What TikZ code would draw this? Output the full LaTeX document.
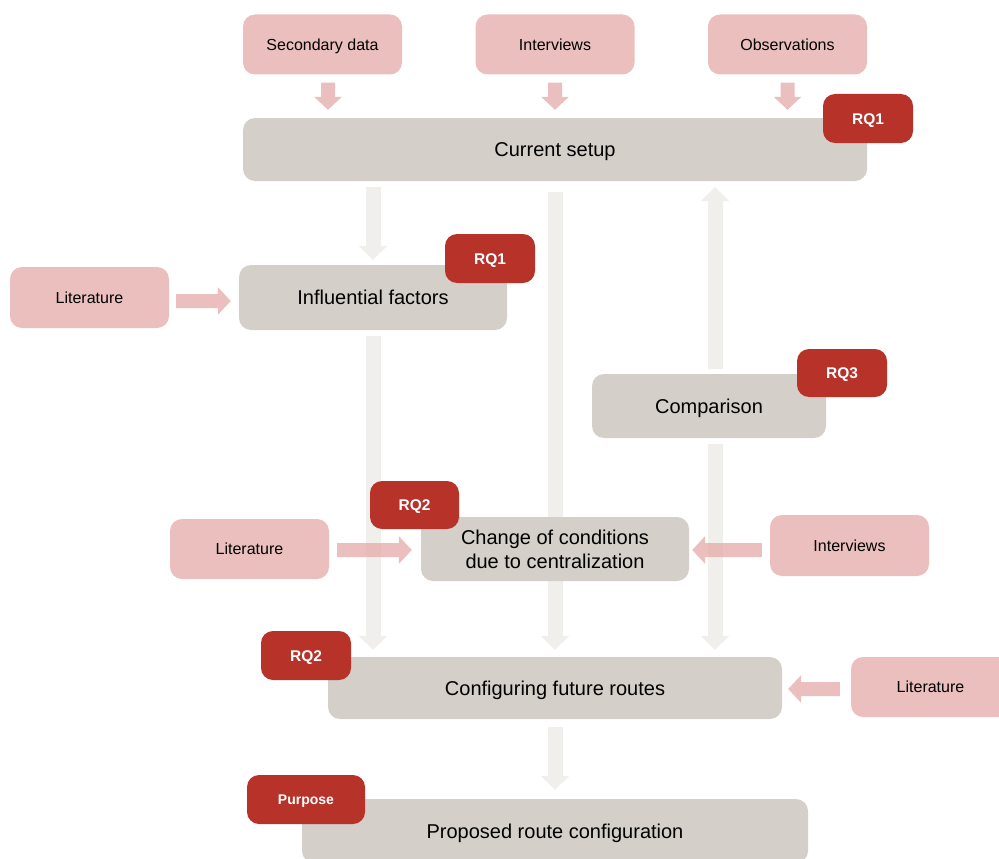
\documentclass[tikz,border=0pt]{standalone}
\usepackage{fontspec}
\setmainfont{Liberation Sans}
\usetikzlibrary{arrows.meta}

\definecolor{pinkbox}{HTML}{EABFBD}
\definecolor{pinkflow}{HTML}{E5AFAC}
\definecolor{greybox}{HTML}{D4CFC8}
\definecolor{redbadge}{HTML}{B73229}
\definecolor{lightflow}{HTML}{F0EFEB}

\pgfdeclarelayer{back}
\pgfsetlayers{back,main}

\tikzset{
  % centre the capitals of a single text line in its box
  capcentred/.style={text height=#1, text depth=0pt},
  src/.style={fill=pinkbox, rounded corners=12pt, minimum width=159pt,
    minimum height=60pt, inner sep=0pt, text=black, capcentred=11.5pt,
    font=\fontsize{16}{19}\selectfont},
  stage/.style={fill=greybox, rounded corners=12pt, inner sep=0pt,
    align=center, text=black, font=\fontsize{20}{24}\selectfont},
  badge/.style={fill=redbadge, rounded corners=12pt, inner sep=0pt,
    minimum width=90pt, minimum height=49pt, text=white, capcentred=11.1pt,
    font=\fontsize{15.5}{18}\selectfont\bfseries},
  flow/.style={draw=lightflow, line width=15pt,
    -{Triangle[width=28pt,length=14pt]}},
  feed/.style={draw=pinkflow, line width=14pt,
    -{Triangle[width=27pt,length=13pt]}},
}

\begin{document}
\begin{tikzpicture}[x=1pt, y=-1pt]
  \useasboundingbox (0,0) rectangle (999,859);
  \clip (0,0) rectangle (999,859);

  % data sources
  \node[src] (sec)   at (322.5,44.5) {Secondary data};
  \node[src] (intv)  at (555,44.5)   {Interviews};
  \node[src] (obs)   at (787.5,44.5) {Observations};
  \node[src, minimum height=61pt] (lit1)  at (89.5,297.5) {Literature};
  \node[src] (lit2)  at (249.5,549)  {Literature};
  \node[src, minimum height=61pt] (intv2) at (849.5,545.5) {Interviews};
  \node[src] (lit3)  at (930.5,687)  {Literature};

  % research stages
  \node[stage, capcentred=14.3pt, minimum width=624pt, minimum height=63pt] (cur)  at (555,149.5) {Current setup};
  \node[stage, capcentred=14.3pt, minimum width=268pt, minimum height=65pt] (inf)  at (373,297.5) {Influential factors};
  \node[stage, capcentred=14.3pt, minimum width=234pt, minimum height=64pt] (cmp)  at (709,406)   {Comparison};
  \node[stage, minimum width=268pt, minimum height=64pt] (chg)  at (555,549)   {Change of conditions\\due to centralization};
  \node[stage, capcentred=14.3pt, minimum width=454pt, minimum height=62pt] (cfg)  at (555,688)   {Configuring future routes};
  \node[stage, capcentred=14.3pt, minimum width=506pt, minimum height=64pt] (prop) at (555,831)   {Proposed route configuration};

  % research question badges
  \node[badge] (rq1a) at (868,118.5) {RQ1};
  \node[badge] (rq1b) at (490,258.5) {RQ1};
  \node[badge, minimum height=48pt] (rq3)  at (842,373)   {RQ3};
  \node[badge, minimum width=89pt, minimum height=48pt] (rq2a) at (414.5,505) {RQ2};
  \node[badge] (rq2b) at (306,655.5) {RQ2};
  \node[badge, minimum width=118pt, capcentred=10pt, font=\fontsize{14}{17}\selectfont\bfseries] (purp) at (306,799.5) {Purpose};

  \begin{pgfonlayer}{back}
    % main flow between stages
    \draw[flow, shorten <=6pt, shorten >=5pt] (cur.south -| inf.north) -- (inf.north);
    \draw[flow, shorten <=11pt, shorten >=7pt] (cur.south) -- (cfg.north);
    \draw[flow, shorten <=5pt, shorten >=6pt] ([xshift=6pt]cmp.north) -- ([xshift=6pt]cmp.north |- cur.south);
    \draw[flow, shorten <=6pt, shorten >=7pt] (inf.south) -- (inf.south |- cfg.north);
    \draw[flow, shorten <=6pt, shorten >=7pt] ([xshift=6pt]cmp.south) -- ([xshift=6pt]cmp.south |- cfg.north);
    \draw[flow, shorten <=8pt, shorten >=9pt] (cfg.south) -- (prop.north);

    % inputs from the data sources
    \begin{scope}[transparency group, opacity=0.8]
      \draw[feed, shorten <=8pt, shorten >=8pt] ([xshift=5.5pt]sec.south) -- ([xshift=5.5pt]sec.south |- cur.north);
      \draw[feed, shorten <=8pt, shorten >=8pt] (intv.south) -- (intv.south |- cur.north);
      \draw[feed, shorten <=8pt, shorten >=8pt] (obs.south) -- (obs.south |- cur.north);
      \draw[feed, shorten <=7pt, shorten >=8pt] ([yshift=-3.5pt]lit1.east) -- ([yshift=-3.5pt]lit1.east -| inf.west);
      \draw[feed, shorten <=8pt, shorten >=9pt] ([yshift=-1pt]lit2.east) -- ([yshift=-1pt]chg.west);
      \draw[feed, shorten <=8pt, shorten >=3pt] ([yshift=-1pt]intv2.west |- chg.east) -- ([yshift=-1pt]chg.east);
      \draw[feed, shorten <=11pt, shorten >=6pt] ([yshift=-1pt]lit3.west |- cfg.east) -- ([yshift=-1pt]cfg.east);
    \end{scope}
  \end{pgfonlayer}
\end{tikzpicture}
\end{document}
